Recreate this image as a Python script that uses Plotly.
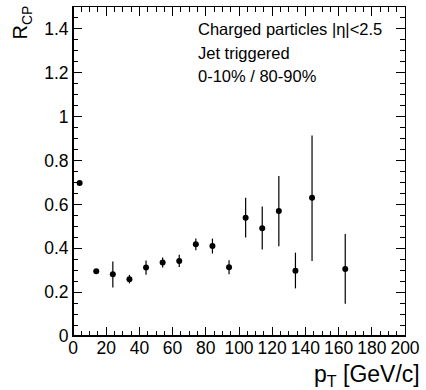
import plotly.graph_objects as go

pt = [4, 14, 24, 34, 44, 54, 64, 74, 84, 94, 104, 114, 124, 134, 144, 164]
rcp = [0.698, 0.295, 0.282, 0.259, 0.312, 0.335, 0.342, 0.418, 0.410, 0.314,
       0.539, 0.491, 0.570, 0.298, 0.630, 0.306]
err_up = [0.0, 0.0, 0.058, 0.020, 0.032, 0.023, 0.029, 0.026, 0.034, 0.031,
          0.091, 0.099, 0.159, 0.082, 0.284, 0.159]
err_dn = [0.0, 0.0, 0.061, 0.019, 0.033, 0.023, 0.027, 0.027, 0.034, 0.032,
          0.090, 0.097, 0.161, 0.081, 0.288, 0.159]
labels = ["Charged particles |η|<2.5", "Jet triggered", "0-10% / 80-90%"]
label_y = [1.40, 1.29, 1.185]

font = "Liberation Sans"

fig = go.Figure()
fig.add_trace(go.Scatter(
    x=pt, y=rcp, mode="markers",
    marker=dict(color="black", size=6),
    error_y=dict(type="data", symmetric=False, array=err_up, arrayminus=err_dn,
                 color="black", thickness=1.2, width=0),
    showlegend=False,
))

axis_common = dict(
    showgrid=False, zeroline=False, showline=True, linecolor="black", linewidth=1,
    mirror="ticks", ticks="inside", ticklen=9, tickwidth=1, tickcolor="black",
    tickfont=dict(family=font, size=17.5, color="black"),
)
fig.update_xaxes(range=[0, 200], dtick=20, tick0=0,
                 minor=dict(dtick=5, ticks="inside", ticklen=5, tickcolor="black", tickwidth=1),
                 ticklabelstandoff=-4,
                 **axis_common)
fig.update_yaxes(range=[0, 1.5], dtick=0.2, tick0=0,
                 minor=dict(dtick=0.05, ticks="inside", ticklen=5, tickcolor="black", tickwidth=1),
                 tickformat="~g", ticklabelstandoff=0,
                 **axis_common)

# thicker left and bottom frame lines
fig.add_shape(type="line", xref="paper", yref="paper", x0=0, x1=0, y0=0, y1=1,
              line=dict(color="black", width=2))
fig.add_shape(type="line", xref="paper", yref="paper", x0=0, x1=1, y0=0, y1=0,
              line=dict(color="black", width=2))

for t, yy in zip(labels, label_y):
    fig.add_annotation(x=(197 - 73) / 335, y=yy, xref="paper", yref="y",
                       text=t, showarrow=False, xanchor="left", yanchor="middle",
                       font=dict(family=font, size=16.5, color="black"))

fig.add_annotation(x=(425 - 73) / 335, y=-0.07, xref="paper", yref="paper",
                   text="p<sub>T</sub> [GeV/c]", showarrow=False,
                   xanchor="right", yanchor="top",
                   font=dict(family=font, size=23, color="black"))
fig.add_annotation(x=(21 - 73) / 335, y=1.012, xref="paper", yref="paper",
                   text="R<sub>CP</sub>", showarrow=False, textangle=-90,
                   xanchor="center", yanchor="top",
                   font=dict(family=font, size=20, color="black"))

fig.update_layout(
    width=426, height=390,
    margin=dict(l=73, r=18, t=6, b=54),
    plot_bgcolor="white", paper_bgcolor="white",
)

fig.write_html("out.html")
